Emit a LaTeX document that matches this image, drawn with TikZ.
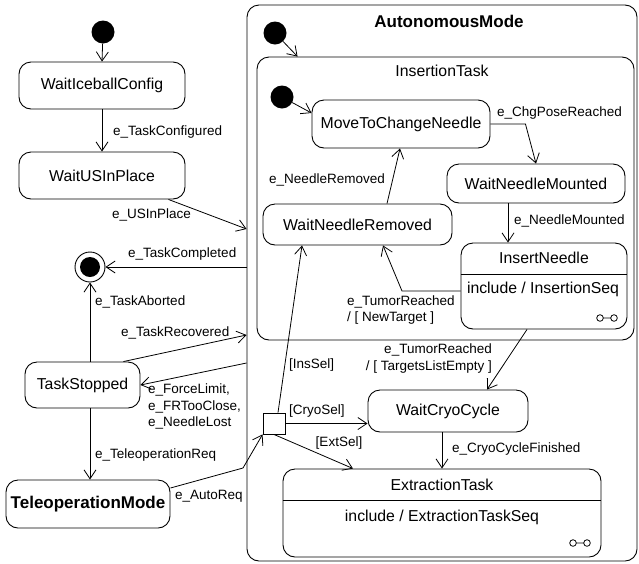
\documentclass[tikz,border=0pt]{standalone}
\usepackage{fontspec}
\setmainfont{Liberation Sans}
\usetikzlibrary{arrows.meta,calc}
\begin{document}
\begin{tikzpicture}[x=1pt,y=-1pt,
  st/.style={draw, rounded corners=12pt, line width=0.9pt, inner sep=0, font=\fontsize{15.8}{18}\selectfont},
  box/.style={draw, rounded corners=12pt, line width=0.9pt, inner sep=0},
  initst/.style={circle, fill=black, minimum size=23pt, inner sep=0},
  tr/.style={draw, line width=0.8pt, -{Straight Barb[length=9pt,width=12pt,line width=0.8pt]}},
  lbl/.style={font=\fontsize{13.5}{16.5}\selectfont, inner sep=0},
  ttl/.style={font=\fontsize{15.8}{18}\selectfont, inner sep=0},
  bttl/.style={font=\fontsize{17}{20}\selectfont\bfseries, inner sep=0},
  divl/.style={line width=0.9pt},
  subm/.pic={\draw[line width=0.8pt] (-7,0) circle (3.3) (-3.7,0) -- (3.7,0) (7,0) circle (3.3);}
]
\useasboundingbox (0,0) rectangle (639,563);

% containers
\node[box, minimum width=390pt, minimum height=556pt] (AM) at (442,283) {};
\node[bttl] (AMt) at (449,21) {AutonomousMode};
\node[box, minimum width=377pt, minimum height=283pt] (IT) at (445.5,198.5) {};
\node[ttl] (ITt) at (442,71) {InsertionTask};

% initial / final states
\node[initst] (i1) at (103,32) {};
\node[initst] (i2) at (275,33) {};
\node[initst] (i3) at (282,97) {};
\node[draw, circle, minimum size=30pt, line width=0.9pt, inner sep=0] (F) at (90,267) {};
\node[circle, fill=black, minimum size=20pt, inner sep=0] (Fi) at (90,267) {};

% simple states
\node[st, minimum width=166pt, minimum height=47pt] (WIC) at (102,85.5) {WaitIceballConfig};
\node[st, minimum width=166pt, minimum height=47pt] (WUS) at (102,175.5) {WaitUSInPlace};
\node[st, minimum width=115pt, minimum height=46pt] (TS) at (82.5,385) {TaskStopped};
\node[st, font=\fontsize{17}{20}\selectfont\bfseries, minimum width=164pt, minimum height=48pt] (TM) at (88,504) {TeleoperationMode};
\node[st, minimum width=178pt, minimum height=48pt] (MTCN) at (401,124) {MoveToChangeNeedle};
\node[st, minimum width=178pt, minimum height=39pt] (WNM) at (536,183.5) {WaitNeedleMounted};
\node[st, minimum width=189pt, minimum height=41pt] (WNR) at (357.5,224.5) {WaitNeedleRemoved};
\node[st, minimum width=160pt, minimum height=42pt] (WCC) at (448,411) {WaitCryoCycle};

% InsertNeedle (submachine state)
\node[box, minimum width=166pt, minimum height=86pt] (IN) at (544,286) {};
\node[ttl] (INt) at (544,258) {InsertNeedle};
\draw[divl] (IN.west |- 0,274) -- (IN.east |- 0,274);
\node[ttl] (INb) at (543,289) {include / InsertionSeq};
\pic at (607,318) {subm};

% ExtractionTask (submachine state)
\node[box, minimum width=318pt, minimum height=88pt] (ET) at (442,513) {};
\node[ttl] (ETt) at (442,485) {ExtractionTask};
\draw[divl] (ET.west |- 0,500) -- (ET.east |- 0,500);
\node[ttl] (ETb) at (442,517) {include / ExtractionTaskSeq};
\pic at (580,543) {subm};

% choice
\node[draw, fill=white, line width=0.9pt, minimum width=22pt, minimum height=21pt, inner sep=0] (Dec) at (274,423.5) {};

% connectors
\coordinate (bendA) at (243,468);
\coordinate (bendB) at (402,291);
\draw[tr] (i1) -- (WIC.north);
\draw[tr] (WIC) -- (WUS);
\draw[tr] ([xshift=-17pt]WUS.south east) -- (AM.west |- 0,229);
\draw[tr] (AM.west |- F) -- (F);
\draw[tr] (TS.north -| F) -- (F);
\draw[tr] ([xshift=-17pt]TS.north east) -- (AM.west |- 0,335);
\draw[tr] (AM.west |- 0,363) -- (TS.east);
\draw[tr] (TS.south -| F) -- (TM.north -| F);
\draw[tr] ([yshift=16pt]TM.east) -- (bendA) -- (Dec.south west);
\draw[tr] (i2) -- ([xshift=41pt]IT.north west);
\draw[tr] (i3) -- ([yshift=11pt]MTCN.west);
\draw[tr] (MTCN.east) -- ++(35,0) -- (WNM.north);
\draw[tr] (WNM.south -| 508,0) -- (IN.north -| 508,0);
\draw[tr] ([xshift=29.5pt]WNR.north) -- ([xshift=-1pt]MTCN.south);
\draw[tr] (IN.west |- bendB) -- (bendB) -- (WNR.south -| 383,0);
\draw[tr] (IN.south -| 527,0) -- (WCC.north -| 487,0);
\draw[tr] ([xshift=4pt]Dec.north) -- (WNR.south -| 302,0);
\draw[tr] (Dec.east) -- (WCC.west |- Dec.east);
\draw[tr] (Dec.south) -- (ET.north -| 353,0);
\draw[tr] (WCC.south -| 442,0) -- (ET.north -| 442,0);

% labels
\node[lbl, anchor=west] (l1) at (113,132) {e\_TaskConfigured};
\node[lbl, anchor=west] (l2) at (112,215) {e\_USInPlace};
\node[lbl, anchor=west] (l3) at (128,254) {e\_TaskCompleted};
\node[lbl, anchor=west] (l4) at (95,302) {e\_TaskAborted};
\node[lbl, anchor=west] (l5) at (121,333) {e\_TaskRecovered};
\node[lbl, anchor=west, align=left] (l6) at (148,406.5) {e\_ForceLimit,\\e\_FRTooClose,\\e\_NeedleLost};
\node[lbl, anchor=west] (l7) at (95,455) {e\_TeleoperationReq};
\node[lbl, anchor=west] (l8) at (175,496) {e\_AutoReq};
\node[lbl, anchor=west] (l9) at (497,113) {e\_ChgPoseReached};
\node[lbl, anchor=east] (l10) at (385,180) {e\_NeedleRemoved};
\node[lbl, anchor=west] (l11) at (514,221) {e\_NeedleMounted};
\node[lbl, anchor=west, align=left] (l12) at (347,310) {e\_TumorReached\\/ [ NewTarget ]};
\node[lbl, anchor=east, align=right] (l13) at (492,358.5) {e\_TumorReached\\/ [ TargetsListEmpty ]};
\node[lbl, anchor=west] (l14) at (289,365) {[InsSel]};
\node[lbl, anchor=west] (l15) at (289,411) {[CryoSel]};
\node[lbl] (l16) at (339,443) {[ExtSel]};
\node[lbl, anchor=west] (l17) at (452,449) {e\_CryoCycleFinished};
\end{tikzpicture}
\end{document}
